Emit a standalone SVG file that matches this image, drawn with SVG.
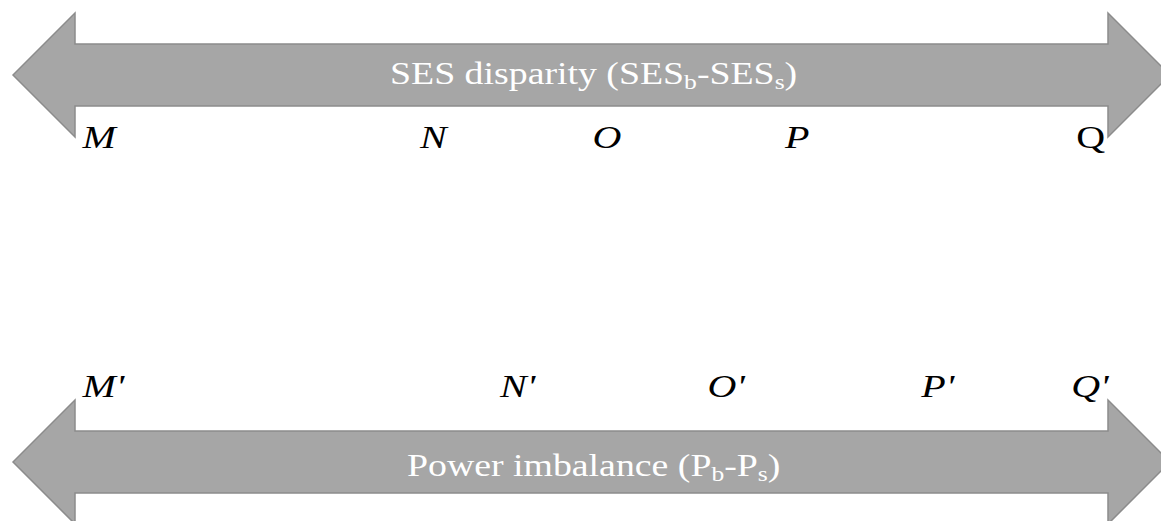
<svg xmlns="http://www.w3.org/2000/svg" width="1161" height="521" viewBox="0 0 1161 521">
  <style>
    .arrow { fill: #a6a6a6; stroke: #8c8c8c; stroke-width: 1.5; stroke-linejoin: miter; }
    .title { font-family: "Liberation Serif", "Times New Roman", serif; font-size: 31px; fill: #ffffff; }
    .sub { font-size: 21px; }
    .lbl { font-family: "Liberation Serif", "Times New Roman", serif; font-size: 32px; fill: #000000; font-style: italic; }
    .up { font-style: normal; }
  </style>
  <g id="connectors">
    <g id="ses-arrow">
      <polygon class="arrow" points="13,75 75,13 75,44 1108,44 1108,13 1170,75 1108,137 1108,106 75,106 75,137"/>
    </g>
    <g id="power-arrow">
      <polygon class="arrow" points="13,462 75,400 75,431 1108,431 1108,400 1170,462 1108,524 1108,493 75,493 75,524"/>
    </g>
  </g>
  <g transform="scale(1.22 1)">
    <g id="ses-label">
      <text class="title" x="319.7" y="84">SES disparity (SES<tspan class="sub" dy="5">b</tspan><tspan dy="-5">-SES</tspan><tspan class="sub" dy="5">s</tspan><tspan dy="-5">)</tspan></text>
    </g>
    <g id="power-label">
      <text class="title" x="333.6" y="476">Power imbalance (P<tspan class="sub" dy="5">b</tspan><tspan dy="-5">-P</tspan><tspan class="sub" dy="5">s</tspan><tspan dy="-5">)</tspan></text>
    </g>
  </g>
  <g transform="scale(1.25 1)">
    <g id="node-M"><text class="lbl" x="66" y="148">M</text></g>
    <g id="node-N"><text class="lbl" x="336" y="148">N</text></g>
    <g id="node-O"><text class="lbl" x="474" y="148">O</text></g>
    <g id="node-P"><text class="lbl" x="628" y="148">P</text></g>
    <g id="node-Q"><text class="lbl up" x="861" y="148">Q</text></g>
    <g id="node-M2"><text class="lbl" x="66" y="397">M'</text></g>
    <g id="node-N2"><text class="lbl" x="400" y="397">N'</text></g>
    <g id="node-O2"><text class="lbl" x="566" y="397">O'</text></g>
    <g id="node-P2"><text class="lbl" x="737" y="397">P'</text></g>
    <g id="node-Q2"><text class="lbl" x="857" y="397">Q'</text></g>
  </g>
</svg>
